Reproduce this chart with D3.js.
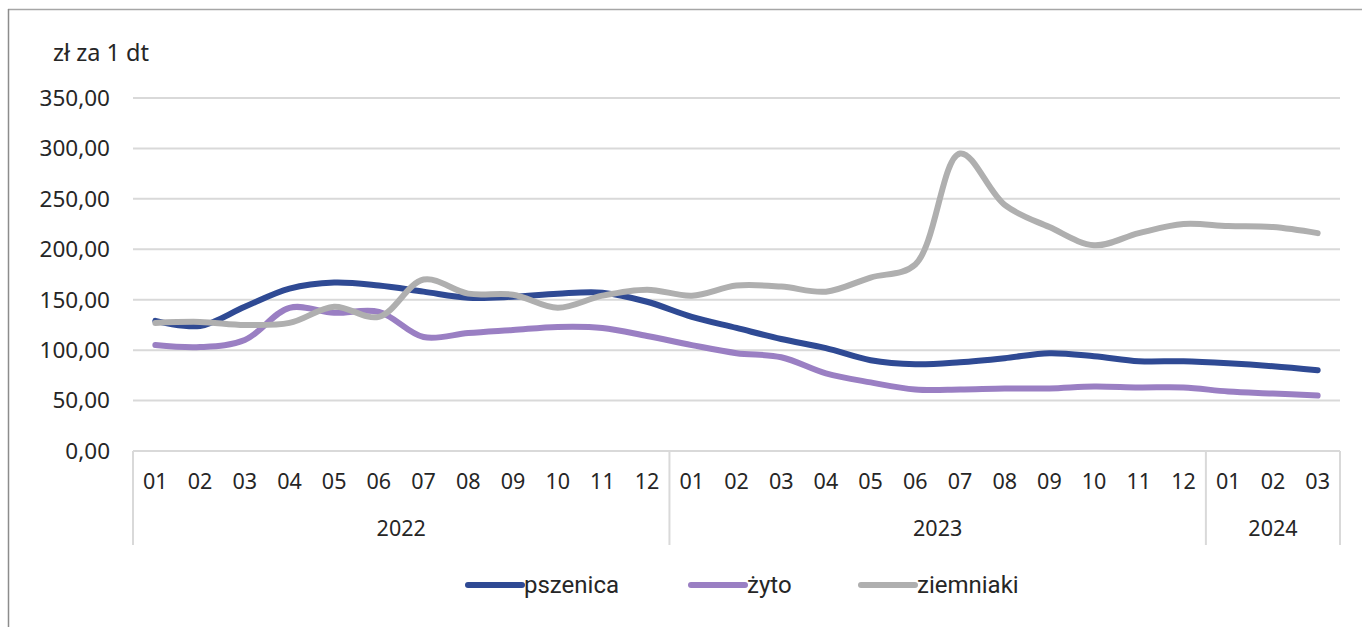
<!DOCTYPE html>
<html>
<head>
<meta charset="utf-8">
<script src="https://cdn.jsdelivr.net/npm/d3@7"></script>
<style>
	body { margin: 0; background: #fff; }
	text { font-family: "Noto Sans", sans-serif; fill: #262626; }
</style>
</head>
<body>
<div id="chart"></div>
<script>
// chart data
var months = ["01","02","03","04","05","06","07","08","09","10","11","12",
	"01","02","03","04","05","06","07","08","09","10","11","12",
	"01","02","03"];
var years = [
	{ label: "2022", from: 0, to: 12 },
	{ label: "2023", from: 12, to: 24 },
	{ label: "2024", from: 24, to: 27 }
];
var pszenica = [129, 124, 143, 161, 167, 164, 158, 152, 153, 156, 157, 148,
	133, 122, 111, 102, 90, 86, 88, 92, 97, 94, 89, 89, 87, 84, 80];
var zyto = [105, 103, 110, 142, 137, 138, 113, 117, 120, 123, 122, 114,
	105, 97, 93, 77, 68, 61, 61, 62, 62, 64, 63, 63, 59, 57, 55];
var ziemniaki = [127, 128, 125, 127, 143, 133, 170, 156, 155, 142, 154, 160,
	154, 164, 163, 158, 172, 185, 295, 244, 222, 204, 216, 225, 223, 222, 216];
var yTicks = [0, 50, 100, 150, 200, 250, 300, 350];

var series = [
	{ name: "pszenica", values: pszenica, color: "#2f4a94" },
	{ name: "żyto", values: zyto, color: "#9a7fc3" },
	{ name: "ziemniaki", values: ziemniaki, color: "#afafaf" }
];

drawChart();

function drawChart() {
	var width = 1362, height = 627,
		mLeft = 133, mRight = 1340, mTop = 98, mBottom = 451;

	var svg = d3.select("#chart")
		.append("svg")
		.attr("width", width)
		.attr("height", height);

	// frame
	svg.append("line")
		.attr("x1", 8).attr("x2", width).attr("y1", 9.5).attr("y2", 9.5)
		.attr("stroke", "#a6a6a6").attr("stroke-width", 1.5);
	svg.append("line")
		.attr("x1", 8.5).attr("x2", 8.5).attr("y1", 9).attr("y2", height)
		.attr("stroke", "#8c8c8c").attr("stroke-width", 1.5);

	var x = d3.scaleBand()
		.domain(d3.range(months.length))
		.range([mLeft, mRight])
		.paddingInner(0).paddingOuter(0);

	var y = d3.scaleLinear()
		.domain([0, 350])
		.range([mBottom, mTop]);

	var fmt = function(d) { return d3.format(".2f")(d).replace(".", ","); };

	// grid
	svg.append("g")
		.selectAll("line")
		.data(yTicks)
		.enter().append("line")
		.attr("x1", mLeft).attr("x2", mRight)
		.attr("y1", function(d) { return y(d); })
		.attr("y2", function(d) { return y(d); })
		.attr("stroke", "#d9d9d9")
		.attr("stroke-width", 2);

	// y labels
	svg.append("g")
		.selectAll("text")
		.data(yTicks)
		.enter().append("text")
		.attr("x", 110)
		.attr("y", function(d) { return y(d); })
		.attr("dy", "0.35em")
		.attr("text-anchor", "end")
		.attr("font-size", 22.5)
		.text(fmt);

	svg.append("text")
		.attr("x", 53)
		.attr("y", 53)
		.attr("dy", "0.35em")
		.attr("font-size", 23.5)
		.text("zł za 1 dt");

	// x axis: months + year groups
	svg.append("g")
		.selectAll("text")
		.data(months)
		.enter().append("text")
		.attr("x", function(d, i) { return x(i) + x.bandwidth() / 2; })
		.attr("y", 481)
		.attr("dy", "0.35em")
		.attr("text-anchor", "middle")
		.attr("font-size", 21.5)
		.text(function(d) { return d; });

	var seps = [0].concat(years.map(function(d) { return d.to; }));
	svg.append("g")
		.selectAll("line")
		.data(seps)
		.enter().append("line")
		.attr("x1", function(d) { return d < months.length ? x(d) : mRight; })
		.attr("x2", function(d) { return d < months.length ? x(d) : mRight; })
		.attr("y1", mBottom)
		.attr("y2", 545)
		.attr("stroke", "#d9d9d9")
		.attr("stroke-width", 2);

	svg.append("g")
		.selectAll("text")
		.data(years)
		.enter().append("text")
		.attr("x", function(d) {
			var x1 = x(d.from), x2 = d.to < months.length ? x(d.to) : mRight;
			return (x1 + x2) / 2;
		})
		.attr("y", 528)
		.attr("dy", "0.35em")
		.attr("text-anchor", "middle")
		.attr("font-size", 21.5)
		.text(function(d) { return d.label; });

	// lines
	var line = d3.line()
		.x(function(d, i) { return x(i) + x.bandwidth() / 2; })
		.y(function(d) { return y(d); })
		.curve(d3.curveCatmullRom.alpha(0.5));

	svg.append("g")
		.selectAll("path")
		.data(series)
		.enter().append("path")
		.attr("d", function(d) { return line(d.values); })
		.attr("fill", "none")
		.attr("stroke", function(d) { return d.color; })
		.attr("stroke-width", 6)
		.attr("stroke-linecap", "round")
		.attr("stroke-linejoin", "round");

	// legend
	var legendX = [465, 688, 858];
	var lg = svg.append("g")
		.selectAll("g")
		.data(series)
		.enter().append("g")
		.attr("transform", function(d, i) { return "translate(" + legendX[i] + ",585)"; });

	lg.append("line")
		.attr("x1", 3).attr("x2", 57)
		.attr("y1", 0).attr("y2", 0)
		.attr("stroke", function(d) { return d.color; })
		.attr("stroke-width", 6)
		.attr("stroke-linecap", "round");

	lg.append("text")
		.attr("x", 59)
		.attr("y", 0)
		.attr("dy", "0.35em")
		.attr("font-size", 24)
		.style("font-family", "Roboto, sans-serif")
		.text(function(d) { return d.name; });
}
</script>
</body>
</html>
